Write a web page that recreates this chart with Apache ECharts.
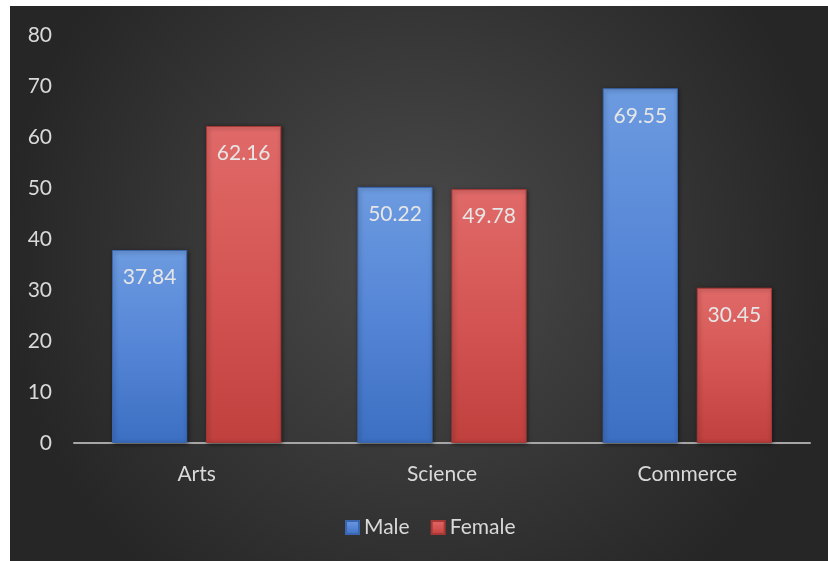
<!DOCTYPE html>
<html>
<head>
<meta charset="utf-8">
<script src="https://cdn.jsdelivr.net/npm/echarts@6/dist/echarts.min.js"></script>
<style>
html,body{margin:0;padding:0;background:#ffffff;width:828px;height:561px;overflow:hidden;}
#c{position:absolute;left:10px;top:6px;width:818px;height:555px;}
</style>
</head>
<body>
<div id="c"></div>
<script>
const categories = ['Arts', 'Science', 'Commerce'];
const maleValues = [37.84, 50.22, 69.55];
const femaleValues = [62.16, 49.78, 30.45];
const yTicks = [0, 10, 20, 30, 40, 50, 60, 70, 80];

const FONT = 'Lato';
const FS = 21;
const chart = echarts.init(document.getElementById('c'));

function grad(top, mid, bottom) {
  return new echarts.graphic.LinearGradient(0, 0, 0, 1, [
    {offset: 0, color: top}, {offset: 0.5, color: mid}, {offset: 1, color: bottom}
  ]);
}

const blue = grad('#6c9be0', '#5585d6', '#3c6fc2');
const red = grad('#e06a68', '#d45553', '#c0403e');

const labelStyle = {
  show: true, position: 'insideTop', distance: 17,
  color: '#e6e6e6', fontFamily: FONT, fontSize: FS,
  formatter: p => p.value.toFixed(2)
};

chart.setOption({
  backgroundColor: new echarts.graphic.RadialGradient(0.5, 0.45, 0.75, [
    {offset: 0, color: '#4b4b4b'}, {offset: 1, color: '#262626'}
  ]),
  animation: false,
  grid: {left: 64, right: 18, top: 29, bottom: 118},
  legend: {
    bottom: 18, left: 330, itemWidth: 13, itemHeight: 13, itemGap: 21,
    icon: 'rect',
    textStyle: {color: '#d9d9d9', fontFamily: FONT, fontSize: FS},
    data: ['Male', 'Female']
  },
  xAxis: {
    type: 'category', data: categories,
    axisLine: {lineStyle: {color: '#a6a6a6', width: 2}},
    axisTick: {show: false},
    axisLabel: {color: '#d9d9d9', fontFamily: FONT, fontSize: FS, margin: 21}
  },
  yAxis: {
    type: 'value', min: yTicks[0], max: yTicks[yTicks.length - 1], interval: 10,
    axisLine: {show: false}, axisTick: {show: false}, splitLine: {show: false},
    axisLabel: {color: '#d9d9d9', fontFamily: FONT, fontSize: FS, margin: 22}
  },
  series: [
    {
      name: 'Male', type: 'bar', data: maleValues,
      barGap: '25%', barCategoryGap: '31%',
      itemStyle: {color: blue, borderColor: '#3a66b0', borderWidth: 1,
        shadowColor: 'rgba(0,0,0,0.5)', shadowBlur: 4, shadowOffsetX: 1, shadowOffsetY: 1},
      label: labelStyle
    },
    {
      name: 'Female', type: 'bar', data: femaleValues,
      itemStyle: {color: red, borderColor: '#a83836', borderWidth: 1,
        shadowColor: 'rgba(0,0,0,0.5)', shadowBlur: 4, shadowOffsetX: 1, shadowOffsetY: 1},
      label: labelStyle
    }
  ]
});
</script>
</body>
</html>
